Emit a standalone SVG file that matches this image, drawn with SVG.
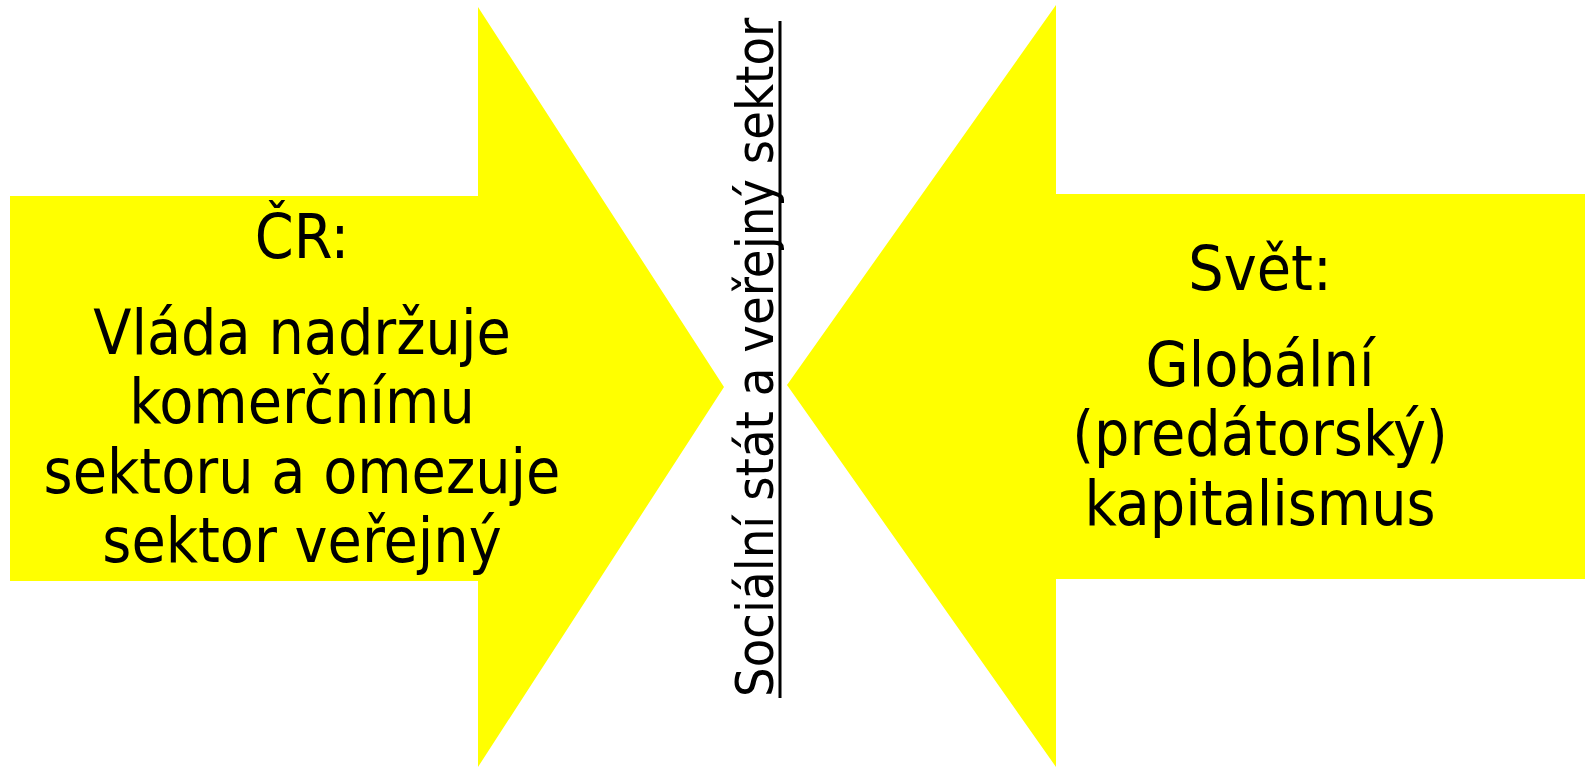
<svg xmlns="http://www.w3.org/2000/svg" width="1585" height="767" viewBox="0 0 1585 767">
<style>
.arrow{fill:#ffff00;stroke:none}
.t{font-family:"DejaVu Sans Condensed","DejaVu Sans",sans-serif;font-stretch:condensed;fill:#000;text-anchor:middle}
.big{font-size:62px}
.vt{font-family:"DejaVu Sans Condensed","DejaVu Sans",sans-serif;font-stretch:condensed;font-size:52px;fill:#000}
</style>
<rect width="1585" height="767" fill="#fff"/>
<g id="left-arrow">
<polygon class="arrow" points="10,196 478,196 478,7 724,387 478,767 478,581 10,581"/>
<text class="t big" x="302" y="258">ČR:</text>
<text class="t big" x="302" y="354">Vláda nadržuje</text>
<text class="t big" x="302" y="423">komerčnímu</text>
<text class="t big" x="302" y="493">sektoru a omezuje</text>
<text class="t big" x="302" y="562">sektor veřejný</text>
</g>
<g id="right-arrow">
<polygon class="arrow" points="1585,194 1056,194 1056,5 787,385 1056,767 1056,579 1585,579"/>
<text class="t big" x="1260" y="290">Svět:</text>
<text class="t big" x="1260" y="386">Globální</text>
<text class="t big" x="1260" y="455">(predátorský)</text>
<text class="t big" x="1260" y="525">kapitalismus</text>
</g>
<g id="center-label">
<text class="vt" transform="translate(773,697) rotate(-90)">Sociální stát a veřejný sektor</text>
<line x1="780" y1="698" x2="780" y2="21" stroke="#000" stroke-width="3"/>
</g>
</svg>
